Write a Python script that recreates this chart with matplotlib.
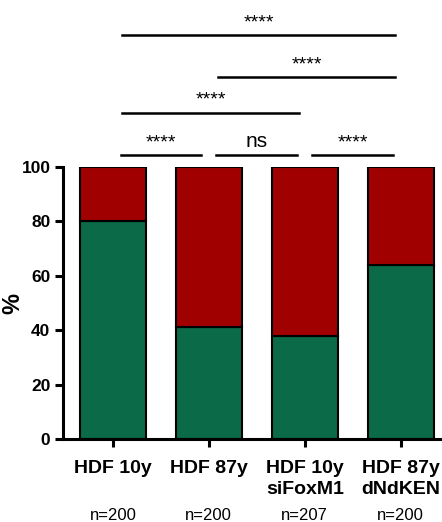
import matplotlib.pyplot as plt
import numpy as np

plt.rcParams['font.family'] = ['Liberation Sans', 'DejaVu Sans']

groups = ["HDF 10y", "HDF 87y", "HDF 10y\nsiFoxM1", "HDF 87y\ndNdKEN"]
counts = ["n=200", "n=200", "n=207", "n=200"]
green = [80, 41, 38, 64]
red = [100 - g for g in green]

# comparisons: (left group, right group, label, height in %)
comparisons = [
    (0, 1, "****", 104.4),
    (1, 2, "ns", 104.4),
    (2, 3, "****", 104.4),
    (0, 2, "****", 120),
    (1, 3, "****", 133),
    (0, 3, "****", 148.5),
]


def main():
    fig = plt.figure(figsize=(4.42, 5.22), dpi=100)
    ax = fig.add_axes([0.1425, 0.159, 0.853, 0.521])

    x = np.arange(len(groups))
    ax.bar(x, green, width=0.69, color="#0b6a47", edgecolor="black", linewidth=1.5)
    ax.bar(x, red, width=0.69, bottom=green, color="#a10000", edgecolor="black", linewidth=1.5)

    ax.set_xlim(-0.52, 3.41)
    ax.set_ylim(0, 100)
    ax.set_yticks([0, 20, 40, 60, 80, 100])
    ax.set_xticks(x)
    ax.set_xticklabels(groups, fontsize=14, fontweight="bold", linespacing=1.3)
    for lab in ax.get_yticklabels():
        lab.set_fontweight("bold")
        lab.set_fontsize(12.5)
    ax.set_ylabel("%", fontsize=17, fontweight="bold", labelpad=-2)

    for s in ["top", "right"]:
        ax.spines[s].set_visible(False)
    for s in ["left", "bottom"]:
        ax.spines[s].set_linewidth(2.2)
    ax.tick_params(width=2.2, length=6, pad=3)
    ax.tick_params(axis="x", pad=9)

    for i, c in enumerate(counts):
        ax.text(i, -28, c, ha="center", va="center", fontsize=12, clip_on=False)

    for a, b, lab, h in comparisons:
        if b - a == 1:
            x0, x1 = a + 0.08, b - 0.08
        else:
            x0, x1 = a + 0.1, b - 0.06
        ax.plot([x0, x1], [h, h], color="black", lw=1.8, clip_on=False)
        ax.text((x0 + x1) / 2, h + 1.5, lab, ha="center", va="bottom",
                fontsize=15 if lab == "ns" else 14, clip_on=False)

    plt.savefig("out.png", dpi=100)


if __name__ == "__main__":
    main()
